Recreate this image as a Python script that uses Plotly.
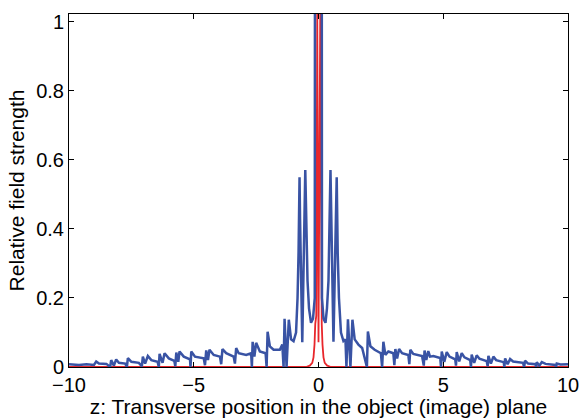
import plotly.graph_objects as go

# Blue curve: vertices (z, relative field strength)
blue_x = [
    -10.0, -9.6, -9.3, -9.0, -8.91, -8.8, -8.5, -8.35, -8.31, -8.2, -8.11, -8.0,
    -7.75, -7.68, -7.64, -7.5, -7.2, -7.08, -7.04, -6.95, -6.84, -6.7,
    -6.45, -6.4, -6.37, -6.25, -6.17, -6.0, -5.78, -5.74, -5.70, -5.62, -5.57, -5.4,
    -5.15, -5.13, -5.10, -4.95, -4.6, -4.55, -4.50, -4.43, -4.37, -4.2,
    -3.95, -3.9, -3.85, -3.7, -3.4, -3.35, -3.30, -3.2, -2.9,
    -2.7, -2.67, -2.64, -2.57, -2.50, -2.35, -2.12, -2.08, -2.04, -1.95, -1.8,
    -1.55, -1.45, -1.40, -1.36, -1.28, -1.19, -1.1, -1.0,
    -0.9, -0.84, -0.8, -0.76, -0.74, -0.65, -0.53, -0.49, -0.44, -0.38, -0.3, -0.22, -0.15,
    -0.1, 0.0, 0.09,
    0.14, 0.2, 0.28, 0.34, 0.4, 0.44, 0.48, 0.6, 0.71, 0.73, 0.77, 0.82, 0.9, 1.0,
    1.08, 1.12, 1.18, 1.28, 1.36, 1.45, 1.6, 1.75, 1.94, 1.98, 2.08, 2.25,
    2.5, 2.55, 2.6, 2.68, 2.8, 3.0, 3.04, 3.08, 3.15, 3.23, 3.35, 3.6, 3.64, 3.68, 3.8,
    4.15, 4.22, 4.25, 4.32, 4.4, 4.47, 4.6, 4.88, 4.91, 4.94, 5.04, 5.14, 5.25,
    5.48, 5.51, 5.54, 5.64, 5.74, 5.85, 6.08, 6.11, 6.14, 6.24, 6.34, 6.45,
    6.74, 6.78, 6.81, 6.91, 7.01, 7.12, 7.42, 7.45, 7.48, 7.58, 7.68, 7.8,
    8.2, 8.24, 8.28, 8.4, 8.7, 8.72, 8.75, 8.85, 8.95, 9.1, 9.5, 9.52, 9.55, 9.7, 10.0,
]
blue_y = [
    0.008, 0.006, 0.008, 0.006, 0.016, 0.010, 0.009, 0.000, 0.020, 0.004, 0.022, 0.012,
    0.010, 0.000, 0.026, 0.015, 0.012, 0.002, 0.030, 0.010, 0.032, 0.020,
    0.015, 0.000, 0.038, 0.012, 0.040, 0.025, 0.018, 0.002, 0.042, 0.015, 0.045, 0.030,
    0.022, 0.000, 0.045, 0.030, 0.025, 0.005, 0.048, 0.020, 0.050, 0.035,
    0.030, 0.008, 0.052, 0.040, 0.030, 0.010, 0.055, 0.040, 0.035,
    0.040, 0.000, 0.073, 0.030, 0.070, 0.045, 0.040, 0.000, 0.102, 0.060, 0.050,
    0.050, 0.065, 0.000, 0.140, 0.000, 0.137, 0.080, 0.075,
    0.100, 0.200, 0.330, 0.550, 0.430, 0.072, 0.571, 0.380, 0.250, 0.170, 0.128, 0.140, 0.200,
    6.0, 6.0, 6.0,
    0.200, 0.140, 0.128, 0.170, 0.250, 0.380, 0.571, 0.073, 0.430, 0.550, 0.330, 0.200, 0.100, 0.075,
    0.080, 0.000, 0.138, 0.000, 0.137, 0.080, 0.065, 0.055, 0.000, 0.103, 0.060, 0.050,
    0.040, 0.000, 0.073, 0.035, 0.045, 0.040, 0.005, 0.052, 0.025, 0.052, 0.040, 0.035, 0.008, 0.050, 0.038,
    0.032, 0.004, 0.048, 0.020, 0.046, 0.030, 0.032, 0.026, 0.000, 0.045, 0.015, 0.043, 0.030,
    0.022, 0.004, 0.043, 0.016, 0.040, 0.028, 0.020, 0.000, 0.036, 0.012, 0.034, 0.024,
    0.017, 0.002, 0.032, 0.010, 0.030, 0.020, 0.014, 0.000, 0.025, 0.008, 0.023, 0.016,
    0.012, 0.000, 0.018, 0.010, 0.008, 0.000, 0.014, 0.004, 0.014, 0.009, 0.006, 0.000, 0.010, 0.007, 0.008,
]

# Red curve: narrow central peak
red_x = [-10.0, -0.5, -0.35, -0.25, -0.2, -0.16, -0.13, -0.09, -0.05, 0.0, 0.07, 0.1, 0.13, 0.16, 0.2, 0.25, 0.35, 0.5, 10.0]
red_y = [0.0, 0.0, 0.004, 0.012, 0.028, 0.065, 0.125, 0.148, 1.03, 0.072, 1.03, 0.148, 0.125, 0.065, 0.028, 0.012, 0.004, 0.0, 0.0]

x_ticks = [-10, -5, 0, 5, 10]
y_ticks = [0, 0.2, 0.4, 0.6, 0.8, 1]

fig = go.Figure()
fig.add_trace(go.Scatter(x=red_x, y=red_y, mode="lines",
                         line=dict(color="#e8262b", width=1.8)))
fig.add_trace(go.Scatter(x=blue_x, y=blue_y, mode="lines",
                         line=dict(color="#3953a4", width=2.5)))

font = "Liberation Sans, Arial, Helvetica, sans-serif"
fig.update_layout(
    width=582, height=418,
    margin=dict(l=69, r=14, t=14, b=51, autoexpand=False),
    paper_bgcolor="white", plot_bgcolor="white",
    showlegend=False,
    font=dict(family=font, size=20, color="black"),
)
fig.update_xaxes(
    range=[-10, 10], tickvals=x_ticks, automargin=False,
    ticks="inside", ticklen=5, tickcolor="black", tickwidth=1,
    showline=True, linecolor="black", linewidth=1, mirror="allticks",
    showgrid=False, zeroline=False,
    tickfont=dict(size=20),
    title=dict(text="z: Transverse position in the object (image) plane",
               font=dict(size=21), standoff=0),
)
fig.update_yaxes(
    range=[0, 1.023], tickvals=y_ticks, automargin=False,
    ticks="inside", ticklen=5, tickcolor="black", tickwidth=1,
    showline=True, linecolor="black", linewidth=1, mirror="allticks",
    showgrid=False, zeroline=False,
    tickfont=dict(size=20),
    title=dict(text="Relative field strength", font=dict(size=21), standoff=5),
)

fig.write_html("out.html")
